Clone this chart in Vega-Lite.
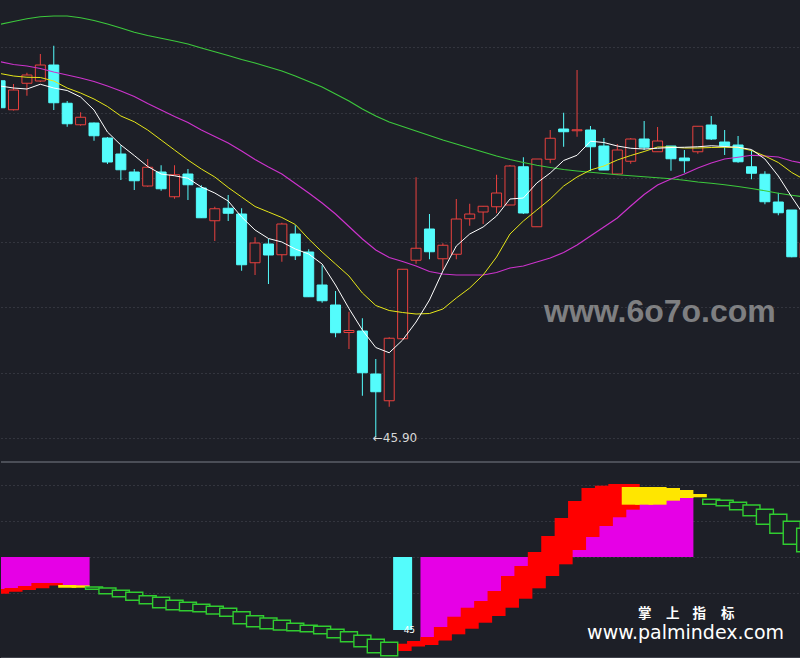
{
 "$schema": "https://vega.github.io/schema/vega-lite/v6.json",
 "background": "#1d1f27",
 "padding": 0,
 "spacing": 0,
 "config": {"view": {"stroke": null}, "scale": {"continuousPadding": 0}, "axis": {"labels": false, "ticks": false, "domain": false, "title": null, "gridColor": "#4a4d57", "gridDash": [1, 3], "gridWidth": 1}},
 "datasets": {
  "k": [
   {"i":0,"o":60.17,"c":59.09,"h":60.28,"l":59.0,"ma5":59.96,"ma10":60.46,"ma20":60.93,"ma60":62.43},
   {"i":1,"o":59.01,"c":59.80,"h":60.04,"l":58.98,"ma5":59.88,"ma10":60.36,"ma20":60.82,"ma60":62.54},
   {"i":2,"o":60.07,"c":60.40,"h":60.49,"l":59.57,"ma5":59.84,"ma10":60.31,"ma20":60.76,"ma60":62.65},
   {"i":3,"o":60.16,"c":60.80,"h":61.24,"l":60.12,"ma5":60.03,"ma10":60.30,"ma20":60.66,"ma60":62.73},
   {"i":4,"o":60.80,"c":59.29,"h":61.57,"l":59.00,"ma5":59.88,"ma10":60.16,"ma20":60.52,"ma60":62.76},
   {"i":5,"o":59.27,"c":58.45,"h":59.36,"l":58.33,"ma5":59.78,"ma10":59.88,"ma20":60.40,"ma60":62.76},
   {"i":6,"o":58.41,"c":58.71,"h":58.91,"l":58.37,"ma5":59.52,"ma10":59.68,"ma20":60.28,"ma60":62.69},
   {"i":7,"o":58.48,"c":57.97,"h":58.50,"l":57.77,"ma5":59.00,"ma10":59.44,"ma20":60.14,"ma60":62.58},
   {"i":8,"o":57.88,"c":56.92,"h":57.92,"l":56.84,"ma5":58.12,"ma10":59.14,"ma20":59.96,"ma60":62.44},
   {"i":9,"o":57.24,"c":56.61,"h":57.59,"l":56.20,"ma5":57.60,"ma10":58.76,"ma20":59.76,"ma60":62.28},
   {"i":10,"o":56.52,"c":56.17,"h":56.64,"l":55.80,"ma5":57.18,"ma10":58.53,"ma20":59.54,"ma60":62.11},
   {"i":11,"o":55.96,"c":56.71,"h":57.04,"l":55.93,"ma5":56.74,"ma10":58.20,"ma20":59.26,"ma60":61.98},
   {"i":12,"o":56.52,"c":55.85,"h":56.79,"l":55.77,"ma5":56.44,"ma10":57.80,"ma20":59.00,"ma60":61.87},
   {"i":13,"o":55.53,"c":56.41,"h":56.79,"l":55.45,"ma5":56.37,"ma10":57.40,"ma20":58.74,"ma60":61.76},
   {"i":14,"o":56.44,"c":56.01,"h":56.64,"l":55.40,"ma5":56.27,"ma10":57.00,"ma20":58.50,"ma60":61.64},
   {"i":15,"o":55.88,"c":54.69,"h":55.99,"l":54.68,"ma5":55.92,"ma10":56.64,"ma20":58.20,"ma60":61.48},
   {"i":16,"o":54.57,"c":55.05,"h":55.13,"l":53.76,"ma5":55.68,"ma10":56.32,"ma20":57.94,"ma60":61.33},
   {"i":17,"o":55.07,"c":54.87,"h":55.60,"l":54.56,"ma5":55.36,"ma10":55.90,"ma20":57.68,"ma60":61.18},
   {"i":18,"o":54.84,"c":52.81,"h":55.07,"l":52.57,"ma5":54.72,"ma10":55.52,"ma20":57.36,"ma60":61.02},
   {"i":19,"o":52.89,"c":53.68,"h":53.91,"l":52.40,"ma5":54.20,"ma10":55.14,"ma20":57.02,"ma60":60.88},
   {"i":20,"o":53.64,"c":53.20,"h":53.84,"l":52.04,"ma5":53.86,"ma10":54.92,"ma20":56.72,"ma60":60.72},
   {"i":21,"o":53.21,"c":54.44,"h":54.49,"l":52.93,"ma5":53.72,"ma10":54.70,"ma20":56.44,"ma60":60.56},
   {"i":22,"o":54.04,"c":53.17,"h":54.39,"l":53.00,"ma5":53.44,"ma10":54.42,"ma20":56.06,"ma60":60.36},
   {"i":23,"o":53.32,"c":51.53,"h":53.43,"l":51.52,"ma5":53.24,"ma10":53.84,"ma20":55.68,"ma60":60.14},
   {"i":24,"o":52.00,"c":51.37,"h":52.79,"l":51.29,"ma5":52.84,"ma10":53.32,"ma20":55.28,"ma60":59.92},
   {"i":25,"o":51.20,"c":50.09,"h":51.76,"l":49.91,"ma5":52.00,"ma10":52.84,"ma20":54.84,"ma60":59.64},
   {"i":26,"o":50.10,"c":50.18,"h":50.93,"l":49.44,"ma5":51.06,"ma10":52.36,"ma20":54.34,"ma60":59.36},
   {"i":27,"o":50.16,"c":48.49,"h":50.67,"l":47.57,"ma5":50.20,"ma10":51.68,"ma20":53.84,"ma60":59.04},
   {"i":28,"o":48.44,"c":47.73,"h":49.04,"l":45.90,"ma5":49.50,"ma10":51.18,"ma20":53.40,"ma60":58.76},
   {"i":29,"o":47.37,"c":49.87,"h":49.91,"l":47.13,"ma5":49.29,"ma10":50.98,"ma20":53.10,"ma60":58.52},
   {"i":30,"o":49.85,"c":52.63,"h":52.64,"l":49.85,"ma5":49.80,"ma10":50.90,"ma20":52.94,"ma60":58.34},
   {"i":31,"o":52.99,"c":53.47,"h":56.31,"l":52.85,"ma5":50.52,"ma10":50.84,"ma20":52.76,"ma60":58.16},
   {"i":32,"o":54.24,"c":53.33,"h":54.84,"l":53.03,"ma5":51.40,"ma10":50.86,"ma20":52.54,"ma60":57.98},
   {"i":33,"o":53.05,"c":53.59,"h":53.67,"l":52.60,"ma5":52.56,"ma10":51.04,"ma20":52.44,"ma60":57.80},
   {"i":34,"o":53.23,"c":54.64,"h":55.44,"l":53.03,"ma5":53.56,"ma10":51.48,"ma20":52.40,"ma60":57.64},
   {"i":35,"o":54.65,"c":54.84,"h":55.25,"l":54.37,"ma5":54.04,"ma10":51.88,"ma20":52.40,"ma60":57.48},
   {"i":36,"o":54.92,"c":55.15,"h":55.16,"l":54.44,"ma5":54.32,"ma10":52.40,"ma20":52.40,"ma60":57.32},
   {"i":37,"o":55.13,"c":55.68,"h":56.41,"l":54.87,"ma5":54.76,"ma10":53.12,"ma20":52.50,"ma60":57.16},
   {"i":38,"o":55.20,"c":56.76,"h":56.80,"l":55.20,"ma5":55.44,"ma10":54.04,"ma20":52.68,"ma60":57.02},
   {"i":39,"o":56.73,"c":54.88,"h":57.11,"l":54.84,"ma5":55.48,"ma10":54.56,"ma20":52.76,"ma60":56.90},
   {"i":40,"o":54.33,"c":57.04,"h":57.04,"l":54.33,"ma5":56.08,"ma10":55.00,"ma20":52.92,"ma60":56.79},
   {"i":41,"o":57.03,"c":57.87,"h":58.20,"l":56.87,"ma5":56.48,"ma10":55.44,"ma20":53.08,"ma60":56.70},
   {"i":42,"o":58.24,"c":58.13,"h":58.89,"l":57.53,"ma5":56.98,"ma10":55.96,"ma20":53.30,"ma60":56.62},
   {"i":43,"o":58.17,"c":58.21,"h":60.60,"l":57.93,"ma5":57.19,"ma10":56.32,"ma20":53.60,"ma60":56.56},
   {"i":44,"o":58.20,"c":57.53,"h":58.36,"l":56.56,"ma5":57.75,"ma10":56.60,"ma20":53.96,"ma60":56.51},
   {"i":45,"o":57.56,"c":56.60,"h":57.88,"l":56.60,"ma5":57.70,"ma10":56.76,"ma20":54.32,"ma60":56.46},
   {"i":46,"o":56.44,"c":57.40,"h":57.64,"l":56.40,"ma5":57.56,"ma10":57.00,"ma20":54.68,"ma60":56.41},
   {"i":47,"o":56.95,"c":57.84,"h":57.88,"l":56.85,"ma5":57.47,"ma10":57.18,"ma20":55.16,"ma60":56.37},
   {"i":48,"o":57.84,"c":57.51,"h":58.56,"l":57.40,"ma5":57.44,"ma10":57.34,"ma20":55.62,"ma60":56.33},
   {"i":49,"o":57.33,"c":57.76,"h":58.32,"l":57.33,"ma5":57.47,"ma10":57.52,"ma20":56.00,"ma60":56.29},
   {"i":50,"o":57.56,"c":57.05,"h":57.56,"l":56.57,"ma5":57.50,"ma10":57.52,"ma20":56.24,"ma60":56.25},
   {"i":51,"o":57.08,"c":56.97,"h":57.40,"l":56.49,"ma5":57.51,"ma10":57.48,"ma20":56.44,"ma60":56.19},
   {"i":52,"o":57.33,"c":58.35,"h":58.35,"l":57.25,"ma5":57.53,"ma10":57.48,"ma20":56.68,"ma60":56.12},
   {"i":53,"o":58.40,"c":57.84,"h":58.76,"l":57.80,"ma5":57.57,"ma10":57.50,"ma20":56.88,"ma60":56.07},
   {"i":54,"o":57.72,"c":57.56,"h":58.20,"l":57.20,"ma5":57.54,"ma10":57.51,"ma20":57.04,"ma60":56.01},
   {"i":55,"o":57.60,"c":56.93,"h":57.96,"l":56.89,"ma5":57.51,"ma10":57.50,"ma20":57.11,"ma60":55.94},
   {"i":56,"o":56.73,"c":56.47,"h":57.40,"l":56.23,"ma5":57.42,"ma10":57.38,"ma20":57.19,"ma60":55.86},
   {"i":57,"o":56.43,"c":55.33,"h":56.55,"l":55.23,"ma5":57.04,"ma10":57.16,"ma20":57.16,"ma60":55.77},
   {"i":58,"o":55.32,"c":54.89,"h":55.69,"l":54.79,"ma5":56.36,"ma10":56.90,"ma20":57.12,"ma60":55.67},
   {"i":59,"o":55.00,"c":53.13,"h":55.00,"l":53.11,"ma5":55.52,"ma10":56.50,"ma20":56.96,"ma60":55.59},
   {"i":60,"o":53.08,"c":53.69,"h":53.69,"l":53.00,"ma5":54.72,"ma10":56.20,"ma20":56.86,"ma60":55.52}
  ],
  "box": [
   {"i":0,"t":-8.0,"b":-9.18,"k":"red"},
   {"i":1,"t":-7.75,"b":-8.68,"k":"red"},
   {"i":2,"t":-7.25,"b":-8.25,"k":"red"},
   {"i":3,"t":-6.5,"b":-7.83,"k":"red"},
   {"i":4,"t":-6.5,"b":-7.13,"k":"red"},
   {"i":5,"t":-7.0,"b":-7.68,"k":"yellow"},
   {"i":6,"t":-7.08,"b":-7.68,"k":"yellow"},
   {"i":7,"t":-7.5,"b":-8.08,"k":"green"},
   {"i":8,"t":-7.75,"b":-9.18,"k":"green"},
   {"i":9,"t":-8.33,"b":-9.93,"k":"green"},
   {"i":10,"t":-8.83,"b":-10.83,"k":"green"},
   {"i":11,"t":-9.68,"b":-11.68,"k":"green"},
   {"i":12,"t":-10.08,"b":-12.68,"k":"green"},
   {"i":13,"t":-10.83,"b":-13.18,"k":"green"},
   {"i":14,"t":-11.33,"b":-13.43,"k":"green"},
   {"i":15,"t":-11.83,"b":-13.68,"k":"green"},
   {"i":16,"t":-12.33,"b":-14.25,"k":"green"},
   {"i":17,"t":-12.83,"b":-14.83,"k":"green"},
   {"i":18,"t":-13.68,"b":-16.68,"k":"green"},
   {"i":19,"t":-14.68,"b":-17.43,"k":"green"},
   {"i":20,"t":-15.25,"b":-17.93,"k":"green"},
   {"i":21,"t":-15.83,"b":-18.25,"k":"green"},
   {"i":22,"t":-16.58,"b":-18.43,"k":"green"},
   {"i":23,"t":-17.08,"b":-18.68,"k":"green"},
   {"i":24,"t":-17.33,"b":-19.18,"k":"green"},
   {"i":25,"t":-18.08,"b":-20.18,"k":"green"},
   {"i":26,"t":-18.68,"b":-21.18,"k":"green"},
   {"i":27,"t":-19.58,"b":-22.43,"k":"green"},
   {"i":28,"t":-20.58,"b":-23.93,"k":"green"},
   {"i":29,"t":-21.33,"b":-24.68,"k":"green"},
   {"i":30,"t":-21.68,"b":-23.5,"k":"red"},
   {"i":31,"t":-21.0,"b":-22.38,"k":"red"},
   {"i":32,"t":-20.0,"b":-22.0,"k":"red"},
   {"i":33,"t":-17.5,"b":-20.88,"k":"red"},
   {"i":34,"t":-14.93,"b":-19.33,"k":"red"},
   {"i":35,"t":-12.68,"b":-17.93,"k":"red"},
   {"i":36,"t":-11.0,"b":-16.43,"k":"red"},
   {"i":37,"t":-8.5,"b":-14.75,"k":"red"},
   {"i":38,"t":-4.75,"b":-12.68,"k":"red"},
   {"i":39,"t":-2.25,"b":-10.43,"k":"red"},
   {"i":40,"t":1.25,"b":-7.83,"k":"red"},
   {"i":41,"t":5.25,"b":-4.75,"k":"red"},
   {"i":42,"t":9.75,"b":-1.83,"k":"red"},
   {"i":43,"t":14.0,"b":1.75,"k":"red"},
   {"i":44,"t":17.25,"b":5.0,"k":"red"},
   {"i":45,"t":17.83,"b":7.75,"k":"red"},
   {"i":46,"t":18.25,"b":9.93,"k":"red"},
   {"i":47,"t":18.25,"b":11.83,"k":"red"},
   {"i":47,"t":17.5,"b":13.08,"k":"yellow"},
   {"i":48,"t":17.5,"b":13.08,"k":"yellow"},
   {"i":49,"t":17.5,"b":13.08,"k":"yellow"},
   {"i":50,"t":17.25,"b":14.08,"k":"yellow"},
   {"i":51,"t":16.75,"b":14.75,"k":"yellow"},
   {"i":52,"t":15.75,"b":14.93,"k":"yellow"},
   {"i":53,"t":14.43,"b":13.18,"k":"green"},
   {"i":54,"t":14.18,"b":12.83,"k":"green"},
   {"i":55,"t":13.68,"b":11.83,"k":"green"},
   {"i":56,"t":13.0,"b":10.33,"k":"green"},
   {"i":57,"t":11.93,"b":8.18,"k":"green"},
   {"i":58,"t":10.68,"b":5.93,"k":"green"},
   {"i":59,"t":8.93,"b":3.18,"k":"green"},
   {"i":60,"t":7.18,"b":1.33,"k":"green"},
   {"i":30,"t":0,"b":-18.25,"k":"cyan"}
  ],
  "mag": [
   {"i":0,"m":-8.5},{"i":1,"m":-8.2},{"i":2,"m":-7.7},{"i":3,"m":-7.1},{"i":4,"m":-6.8},{"i":5,"m":-7.3},{"i":6,"m":-7.4},
   {"i":32,"m":-21.0},{"i":33,"m":-19.2},{"i":34,"m":-17.1},{"i":35,"m":-15.3},{"i":36,"m":-13.7},{"i":37,"m":-11.6},
   {"i":38,"m":-8.7},{"i":39,"m":-6.3},{"i":40,"m":-3.3},{"i":41,"m":0.25},{"i":42,"m":4.0},{"i":43,"m":7.9},
   {"i":44,"m":11.1},{"i":45,"m":12.8},{"i":46,"m":14.1},{"i":47,"m":15.0},{"i":48,"m":15.3},{"i":49,"m":15.3},
   {"i":50,"m":15.7},{"i":51,"m":15.75}
  ]
 },
 "vconcat": [
  {
   "width": 800,
   "height": 461,
   "layer": [
    {
     "data": {"name": "k"},
     "mark": {"type": "rule", "strokeWidth": 1, "clip": true},
     "encoding": {
      "x": {"field": "i", "type": "quantitative", "scale": {"domain": [0.067, 59.69], "nice": false, "zero": false, "padding": 0}, "axis": null},
      "y": {"field": "l", "type": "quantitative", "scale": {"domain": [44.96, 63.4], "nice": false, "zero": false, "padding": 0},
            "axis": {"values": [45.9, 47.2, 48.5, 49.8, 51.1, 52.4, 53.7, 55.0, 56.3, 57.6, 58.9, 60.2, 61.5, 62.8], "grid": true}},
      "y2": {"field": "h"},
      "color": {"condition": {"test": "datum.c >= datum.o", "value": "#e8403e"}, "value": "#54fcfc"}
     }
    },
    {
     "data": {"name": "k"},
     "mark": {"type": "bar", "size": 10, "strokeWidth": 1, "clip": true},
     "encoding": {
      "x": {"field": "i", "type": "quantitative", "scale": {"domain": [0.067, 59.69], "nice": false, "zero": false, "padding": 0}},
      "y": {"field": "o", "type": "quantitative"},
      "y2": {"field": "c"},
      "fill": {"condition": {"test": "datum.c >= datum.o", "value": "#1d1f27"}, "value": "#54fcfc"},
      "stroke": {"condition": {"test": "datum.c >= datum.o", "value": "#e8403e"}, "value": "#54fcfc"}
     }
    },
    {
     "data": {"name": "k"},
     "mark": {"type": "line", "color": "#3cc83c", "strokeWidth": 1.2, "clip": true},
     "encoding": {"x": {"field": "i", "type": "quantitative"}, "y": {"field": "ma60", "type": "quantitative"}}
    },
    {
     "data": {"name": "k"},
     "mark": {"type": "line", "color": "#cc33cc", "strokeWidth": 1.2, "clip": true},
     "encoding": {"x": {"field": "i", "type": "quantitative"}, "y": {"field": "ma20", "type": "quantitative"}}
    },
    {
     "data": {"name": "k"},
     "mark": {"type": "line", "color": "#e6e619", "strokeWidth": 1, "clip": true},
     "encoding": {"x": {"field": "i", "type": "quantitative"}, "y": {"field": "ma10", "type": "quantitative"}}
    },
    {
     "data": {"name": "k"},
     "mark": {"type": "line", "color": "#ffffff", "strokeWidth": 1, "clip": true},
     "encoding": {"x": {"field": "i", "type": "quantitative"}, "y": {"field": "ma5", "type": "quantitative"}}
    },
    {
     "data": {"values": [{"i": 28, "p": 45.9, "t": "←45.90"}]},
     "mark": {"type": "text", "align": "left", "baseline": "middle", "dx": -3, "fontSize": 12, "font": "DejaVu Sans", "color": "#d8d8d8"},
     "encoding": {"x": {"field": "i", "type": "quantitative"}, "y": {"field": "p", "type": "quantitative"}, "text": {"field": "t"}}
    },
    {
     "data": {"values": [{"i": 40.54, "p": 50.52, "t": "www.6o7o.com"}]},
     "mark": {"type": "text", "align": "left", "baseline": "alphabetic", "fontSize": 32, "fontWeight": "bold", "font": "Liberation Sans", "color": "#a8a8a8", "opacity": 0.7},
     "encoding": {"x": {"field": "i", "type": "quantitative"}, "y": {"field": "p", "type": "quantitative"}, "text": {"field": "t"}}
    }
   ]
  },
  {
   "width": 800,
   "height": 197,
   "layer": [
    {
     "data": {"name": "mag"},
     "mark": {"type": "bar", "size": 18, "color": "#e600e6", "clip": true},
     "encoding": {
      "x": {"field": "i", "type": "quantitative", "scale": {"domain": [0.067, 59.69], "nice": false, "zero": false, "padding": 0}, "axis": null},
      "y": {"field": "m", "type": "quantitative", "scale": {"domain": [-25.5, 23.75], "nice": false, "zero": false, "padding": 0},
            "axis": {"values": [-9, 0, 9, 18], "grid": true}},
      "y2": {"datum": 0}
     }
    },
    {
     "data": {"name": "box"},
     "transform": [{"filter": "datum.k == 'red'"}],
     "mark": {"type": "bar", "size": 18, "color": "#ff0000", "clip": true},
     "encoding": {"x": {"field": "i", "type": "quantitative", "scale": {"domain": [0.067, 59.69], "nice": false, "zero": false, "padding": 0}}, "y": {"field": "t", "type": "quantitative"}, "y2": {"field": "b"}}
    },
    {
     "data": {"name": "box"},
     "transform": [{"filter": "datum.k == 'yellow'"}],
     "mark": {"type": "bar", "size": 18, "color": "#ffe600", "clip": true},
     "encoding": {"x": {"field": "i", "type": "quantitative"}, "y": {"field": "t", "type": "quantitative"}, "y2": {"field": "b"}}
    },
    {
     "data": {"name": "box"},
     "transform": [{"filter": "datum.k == 'green'"}],
     "mark": {"type": "bar", "size": 17, "filled": true, "fill": "#1d1f27", "stroke": "#30cc30", "strokeWidth": 1.4, "clip": true},
     "encoding": {"x": {"field": "i", "type": "quantitative"}, "y": {"field": "t", "type": "quantitative"}, "y2": {"field": "b"}}
    },
    {
     "data": {"name": "box"},
     "transform": [{"filter": "datum.k == 'cyan'"}],
     "mark": {"type": "bar", "size": 19, "color": "#54fcfc", "clip": true},
     "encoding": {"x": {"field": "i", "type": "quantitative"}, "y": {"field": "t", "type": "quantitative"}, "y2": {"field": "b"}}
    },
    {
     "data": {"values": [{"i": 30, "v": -18.25, "t": "45"}]},
     "mark": {"type": "text", "align": "left", "baseline": "middle", "dx": 1, "fontSize": 9, "font": "DejaVu Sans", "color": "#ffffff"},
     "encoding": {"x": {"field": "i", "type": "quantitative"}, "y": {"field": "v", "type": "quantitative"}, "text": {"field": "t"}}
    },
    {
     "data": {"values": [
      {"i": 48.04, "v": -14.2, "t": "掌"},
      {"i": 50.13, "v": -14.2, "t": "上"},
      {"i": 52.11, "v": -14.2, "t": "指"},
      {"i": 54.23, "v": -14.2, "t": "标"}
     ]},
     "mark": {"type": "text", "align": "center", "baseline": "middle", "fontSize": 13.5, "fontWeight": "bold", "font": "Noto Sans CJK SC", "color": "#ffffff"},
     "encoding": {"x": {"field": "i", "type": "quantitative"}, "y": {"field": "v", "type": "quantitative"}, "text": {"field": "t"}}
    },
    {
     "data": {"values": [{"i": 51.09, "v": -20.6, "t": "www.palmindex.com"}]},
     "mark": {"type": "text", "align": "center", "baseline": "alphabetic", "fontSize": 19, "font": "DejaVu Sans", "color": "#ffffff"},
     "encoding": {"x": {"field": "i", "type": "quantitative"}, "y": {"field": "v", "type": "quantitative"}, "text": {"field": "t"}}
    },
    {
     "data": {"values": [{"v": 23.75}, {"v": -25.3}]},
     "mark": {"type": "rule", "color": "#4b4e57", "strokeWidth": 2},
     "encoding": {"y": {"field": "v", "type": "quantitative"}}
    }
   ]
  }
 ]
}
